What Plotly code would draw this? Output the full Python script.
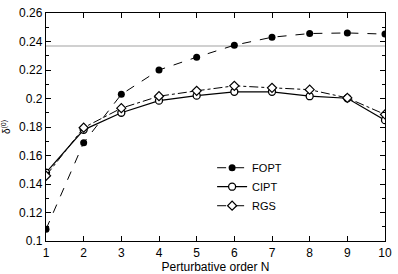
import plotly.graph_objects as go

N = [1, 2, 3, 4, 5, 6, 7, 8, 9, 10]
fopt = [0.1082, 0.169, 0.2029, 0.2200, 0.2290, 0.2374, 0.2430, 0.2456, 0.2460, 0.2452]
cipt = [0.1480, 0.1780, 0.1900, 0.1985, 0.2020, 0.2047, 0.2047, 0.2016, 0.2002, 0.1848]
rgs = [0.1458, 0.1795, 0.1932, 0.2016, 0.2054, 0.2089, 0.2075, 0.2062, 0.2004, 0.1888]
ref_level = 0.2368

fig = go.Figure()
fig.add_shape(type="line", xref="paper", x0=0, x1=1, yref="y", y0=ref_level, y1=ref_level,
              line=dict(color="#d0d0d0", width=2), layer="below")

fig.add_trace(go.Scatter(x=N, y=fopt, name="FOPT", mode="lines+markers",
                         line=dict(color="black", width=1, dash="dash"),
                         marker=dict(symbol="circle", size=7, color="black")))
fig.add_trace(go.Scatter(x=N, y=cipt, name="CIPT", mode="lines+markers",
                         line=dict(color="black", width=1.2),
                         marker=dict(symbol="circle", size=7, color="white",
                                     line=dict(color="black", width=1.3))))
fig.add_trace(go.Scatter(x=N, y=rgs, name="RGS", mode="lines+markers",
                         line=dict(color="black", width=1, dash="dashdot"),
                         marker=dict(symbol="diamond", size=7, color="white",
                                     line=dict(color="black", width=1.2))))

fig.update_layout(
    width=398, height=274,
    margin=dict(l=44, r=8, t=6, b=26),
    paper_bgcolor="white", plot_bgcolor="white",
    font=dict(family="Liberation Sans, Arial, sans-serif", size=12, color="black"),
    legend=dict(x=0.49, y=0.385, xanchor="left", yanchor="top",
                bgcolor="rgba(0,0,0,0)", font=dict(size=11), tracegroupgap=0,
                itemwidth=30),
    showlegend=True,
)
fig.update_xaxes(range=[1, 10], tickmode="linear", tick0=1, dtick=1,
                 ticks="inside", ticklen=5, tickcolor="black",
                 showline=True, linecolor="black", linewidth=1.3, mirror="ticks",
                 showgrid=False, zeroline=False, ticklabelstandoff=0,
                 title=dict(text="Perturbative order N", standoff=0, font=dict(size=12)))
fig.update_yaxes(range=[0.1, 0.26], tickmode="linear", tick0=0.1, dtick=0.02,
                 ticks="inside", ticklen=5, tickcolor="black",
                 minor=dict(dtick=0.01, ticks="inside", ticklen=3, tickcolor="black"),
                 showline=True, linecolor="black", linewidth=1.3, mirror="ticks",
                 showgrid=False, zeroline=False, tickformat="~g",
                 title=dict(text="δ<sup>(0)</sup>", standoff=6, font=dict(size=10)))

fig.write_html("out.html", config={"displayModeBar": False},
               post_script="document.body.style.margin='0';document.body.style.padding='0';")
